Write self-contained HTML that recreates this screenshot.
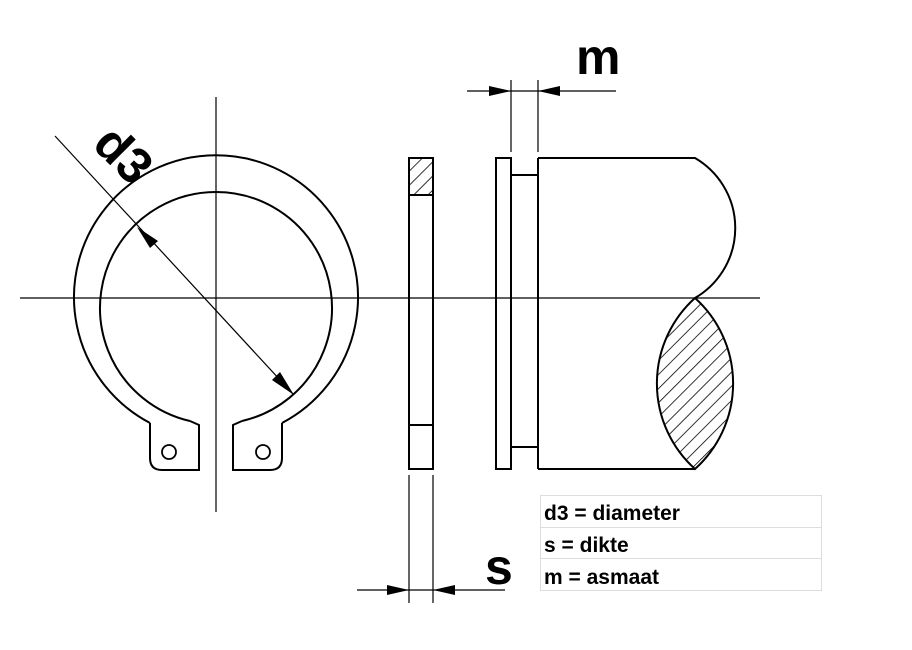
<!DOCTYPE html>
<html><head><meta charset="utf-8"><style>
html,body{margin:0;padding:0;background:#fff;}
</style></head><body>
<svg width="912" height="645" viewBox="0 0 912 645" xmlns="http://www.w3.org/2000/svg">
<defs>
<pattern id="h" patternUnits="userSpaceOnUse" width="10" height="10" patternTransform="rotate(45)">
<line x1="0" y1="0" x2="0" y2="10" stroke="#000" stroke-width="1.6"/>
</pattern>
<clipPath id="lens"><path d="M695,298 A115,115 0 0 0 695,469 A115,115 0 0 0 695,298 Z"/></clipPath>
</defs>
<g stroke="#000" fill="none">
<line x1="20" y1="298" x2="760" y2="298" stroke-width="1.2"/>
<line x1="216" y1="97" x2="216" y2="512" stroke-width="1.2"/>
<path d="M150,423 A142,142 0 1 1 282,423" stroke-width="2"/>
<path d="M190,421 A116,116 0 1 1 242,421" stroke-width="2"/>
<path d="M150,423 L150,458 Q150,470 162,470 L199,470 L199,425 L190,421" stroke-width="2"/>
<path d="M282,423 L282,458 Q282,470 270,470 L233,470 L233,425 L242,421" stroke-width="2"/>
<circle cx="169" cy="452" r="7" stroke-width="1.8"/>
<circle cx="263" cy="452" r="7" stroke-width="1.8"/>
<line x1="55" y1="136" x2="293" y2="394" stroke-width="1.2"/>
</g>
<polygon points="137,227 158,241 150,248" fill="#000"/>
<polygon points="294,395 272,380 280,372" fill="#000"/>
<text x="0" y="0" transform="translate(91,146) rotate(45)" font-family="Liberation Sans, sans-serif" font-size="50" font-weight="bold" fill="#000">d3</text>

<rect x="409" y="158" width="24" height="37" fill="url(#h)"/>
<g stroke="#000" fill="none" stroke-width="2">
<rect x="409" y="158" width="24" height="311"/>
<line x1="409" y1="195" x2="433" y2="195"/>
<line x1="409" y1="425" x2="433" y2="425"/>
<rect x="496" y="158" width="15" height="311"/>
<rect x="511" y="175" width="27" height="272"/>
<path d="M538,158 L695,158 A81,81 0 0 1 695,298"/>
<line x1="538" y1="469" x2="695" y2="469"/>
<line x1="538" y1="158" x2="538" y2="469"/>
</g>
<rect x="600" y="290" width="200" height="190" fill="url(#h)" clip-path="url(#lens)"/>
<path d="M695,298 A115,115 0 0 0 695,469 A115,115 0 0 0 695,298 Z" stroke="#000" stroke-width="2" fill="none"/>

<g stroke="#000" stroke-width="1.2">
<line x1="511" y1="80" x2="511" y2="152"/>
<line x1="538" y1="80" x2="538" y2="152"/>
<line x1="467" y1="91" x2="616" y2="91"/>
<line x1="409" y1="475" x2="409" y2="603"/>
<line x1="433" y1="475" x2="433" y2="603"/>
<line x1="357" y1="590" x2="505" y2="590"/>
</g>
<polygon points="511,91 489,86 489,96" fill="#000"/>
<polygon points="538,91 560,86 560,96" fill="#000"/>
<polygon points="409,590 387,585 387,595" fill="#000"/>
<polygon points="433,590 455,585 455,595" fill="#000"/>
<text x="576" y="74" font-family="Liberation Sans, sans-serif" font-size="50" font-weight="bold" fill="#000">m</text>
<text x="485" y="584" font-family="Liberation Sans, sans-serif" font-size="50" font-weight="bold" fill="#000">s</text>

<g stroke="#ddd" stroke-width="1" fill="none">
<rect x="540.5" y="495.5" width="281" height="95"/>
<line x1="540" y1="527.5" x2="822" y2="527.5"/>
<line x1="540" y1="558.5" x2="822" y2="558.5"/>
</g>
<g font-family="Liberation Sans, sans-serif" font-size="21" font-weight="bold" fill="#000">
<text x="544" y="520">d3 = diameter</text>
<text x="544" y="552">s = dikte</text>
<text x="544" y="584">m = asmaat</text>
</g>
</svg>
</body></html>
